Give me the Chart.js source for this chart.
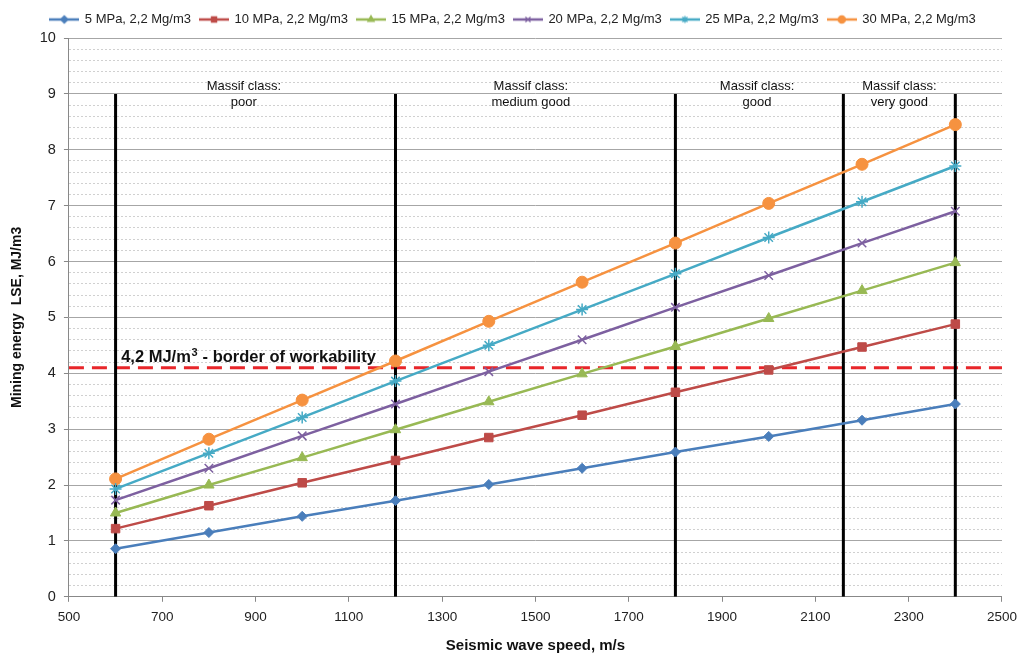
<!DOCTYPE html>
<html>
<head>
  <title>Mining energy vs seismic wave speed</title>
  <script src="https://cdn.jsdelivr.net/npm/chart.js"></script>
  <style>
    body { margin: 0; background: #fff; }
    #wrap { width: 1024px; height: 655px; }
  </style>
</head>
<body>
<div id="wrap"><canvas id="lseChart" width="1024" height="655"></canvas></div>

<script>
  // wave speeds, m/s
  const speeds = [600, 800, 1000, 1200, 1400, 1600, 1800, 2000, 2200, 2400];

  const seriesNames = [
    '5 MPa, 2,2 Mg/m3', '10 MPa, 2,2 Mg/m3', '15 MPa, 2,2 Mg/m3',
    '20 MPa, 2,2 Mg/m3', '25 MPa, 2,2 Mg/m3', '30 MPa, 2,2 Mg/m3'
  ];
  const lse5  = [0.86, 1.15, 1.44, 1.72, 2.01, 2.30, 2.59, 2.87, 3.16, 3.45];
  const lse10 = [1.22, 1.63, 2.04, 2.44, 2.85, 3.25, 3.66, 4.06, 4.47, 4.88];
  const lse15 = [1.50, 2.00, 2.49, 2.99, 3.49, 3.99, 4.48, 4.98, 5.48, 5.98];
  const lse20 = [1.73, 2.30, 2.88, 3.45, 4.03, 4.60, 5.18, 5.75, 6.33, 6.90];
  const lse25 = [1.93, 2.57, 3.21, 3.86, 4.50, 5.14, 5.78, 6.43, 7.07, 7.71];
  const lse30 = [2.11, 2.82, 3.52, 4.22, 4.93, 5.63, 6.33, 7.04, 7.74, 8.45];

  // class boundaries (m/s) and workability border (MJ/m3)
  const classBounds = [600, 1200, 1800, 2160, 2400];
  const boundTop = 9;
  const borderLevel = 4.1;

  const xTicks = [500, 700, 900, 1100, 1300, 1500, 1700, 1900, 2100, 2300, 2500];

  const colors = ['#4a7ebb', '#be4b48', '#98b954', '#7d60a0', '#46aac5', '#f69240'];
  const markers = ['rectRot', 'rect', 'triangle', 'crossRot', 'star', 'circle'];
  const sizes = [5, 6, 6, 6, 6, 6];

  const allSeries = [lse5, lse10, lse15, lse20, lse25, lse30];
  const FONT = '"Liberation Sans", Arial, sans-serif';

  // small line+marker picture for each legend entry
  function legendIcon(i) {
    const c = document.createElement('canvas');
    c.width = 30; c.height = 12;
    const g = c.getContext('2d');
    g.strokeStyle = colors[i];
    g.fillStyle = colors[i];
    g.lineWidth = 2.5;
    g.beginPath(); g.moveTo(0, 6); g.lineTo(30, 6); g.stroke();
    g.lineWidth = 1.3;
    Chart.helpers.drawPoint(g, { pointStyle: markers[i], radius: 3.6, rotation: 0, borderWidth: 1.3 }, 15, 6);
    return c;
  }

  const datasets = allSeries.map((vals, i) => ({
    label: seriesNames[i],
    data: vals.map((v, j) => ({ x: speeds[j], y: v })),
    borderColor: colors[i],
    backgroundColor: colors[i],
    borderWidth: 2.5,
    pointStyle: markers[i],
    pointRadius: sizes[i],
    pointBorderWidth: markers[i] === 'crossRot' || markers[i] === 'star' ? 1.5 : 1,
    tension: 0
  }));

  classBounds.forEach(b => {
    datasets.push({
      label: '_bound',
      data: [{ x: b, y: 0 }, { x: b, y: boundTop }],
      borderColor: '#000',
      borderWidth: 3,
      pointRadius: 0
    });
  });

  datasets.push({
    label: '_border',
    data: [{ x: 500, y: borderLevel }, { x: 2500, y: borderLevel }],
    borderColor: '#e8262a',
    borderWidth: 3,
    borderDash: [15, 8],
    pointRadius: 0
  });

  // text labels placed in data units
  const classLabels = [
    { x: 875, lines: ['Massif class:', 'poor'] },
    { x: 1490, lines: ['Massif class:', 'medium good'] },
    { x: 1975, lines: ['Massif class:', 'good'] },
    { x: 2280, lines: ['Massif class:', 'very good'] }
  ];

  const textPlugin = {
    id: 'texts',
    beforeInit(chart) {
      // a little more room under the legend
      const fit = chart.legend.fit;
      chart.legend.fit = function () { fit.call(this); this.height += 2; };
    },
    afterDatasetsDraw(chart) {
      const { ctx, scales: { x, y } } = chart;
      ctx.save();
      ctx.fillStyle = '#111';
      ctx.font = '13px ' + FONT;
      ctx.textAlign = 'center';
      ctx.textBaseline = 'middle';
      classLabels.forEach(l => {
        const px = x.getPixelForValue(l.x);
        ctx.fillText(l.lines[0], px, y.getPixelForValue(9.14));
        ctx.fillText(l.lines[1], px, y.getPixelForValue(8.85));
      });

      // workability label with superscript
      ctx.font = 'bold 16.5px ' + FONT;
      ctx.textAlign = 'left';
      ctx.textBaseline = 'alphabetic';
      let px = x.getPixelForValue(612);
      const base = y.getPixelForValue(4.2);
      const p1 = '4,2 MJ/m';
      ctx.fillText(p1, px, base);
      px += ctx.measureText(p1).width;
      ctx.font = 'bold 11px ' + FONT;
      ctx.fillText('3', px + 0.5, base - 6);
      px += ctx.measureText('3').width + 1;
      ctx.font = 'bold 16.5px ' + FONT;
      ctx.fillText(' - border of workability', px, base);
      ctx.restore();
    }
  };

  const isMajor = v => Math.abs(v - Math.round(v)) < 1e-6;

  new Chart(document.getElementById('lseChart'), {
    type: 'line',
    data: { datasets },
    plugins: [textPlugin],
    options: {
      responsive: false,
      animation: false,
      layout: { padding: { left: 5, right: 3, top: 4, bottom: 0 } },
      plugins: {
        legend: {
          position: 'top',
          labels: {
            filter: item => !item.text.startsWith('_'),
            usePointStyle: true,
            pointStyleWidth: 28,
            boxHeight: 12,
            padding: 9,
            color: '#222',
            font: { family: FONT, size: 13 },
            generateLabels: chart => {
              const items = Chart.defaults.plugins.legend.labels.generateLabels(chart);
              items.forEach(it => {
                if (it.datasetIndex < seriesNames.length) it.pointStyle = legendIcon(it.datasetIndex);
              });
              return items;
            }
          }
        },
        tooltip: { enabled: false }
      },
      scales: {
        x: {
          type: 'linear',
          min: 500,
          max: 2500,
          afterBuildTicks: axis => { axis.ticks = xTicks.map(v => ({ value: v })); },
          ticks: {
            color: '#222',
            font: { family: FONT, size: 13.5 },
            padding: 7,
            callback: v => String(v)
          },
          grid: { drawOnChartArea: false, drawTicks: true, tickLength: 5, tickColor: '#888' },
          border: { color: '#888', width: 1 },
          title: {
            display: true,
            text: 'Seismic wave speed, m/s',
            color: '#111',
            font: { family: FONT, size: 15, weight: 'bold' },
            padding: { top: 5, bottom: 0 }
          }
        },
        y: {
          min: 0,
          max: 10,
          ticks: {
            stepSize: 0.2,
            autoSkip: false,
            color: '#222',
            font: { family: FONT, size: 14.5 },
            callback: v => isMajor(v) ? Math.round(v) : '',
            padding: 8
          },
          grid: {
            color: ctx => isMajor(ctx.tick.value) ? '#a6a6a6' : '#d0d0d0',
            lineWidth: 1,
            tickLength: 5,
            tickColor: ctx => isMajor(ctx.tick.value) ? '#888' : 'rgba(0,0,0,0)'
          },
          border: {
            color: '#888',
            dash: ctx => isMajor(ctx.tick.value) ? [] : [2, 2]
          },
          title: {
            display: true,
            text: 'Mining energy  LSE, MJ/m3',
            color: '#111',
            font: { family: FONT, size: 14, weight: 'bold' },
            padding: { bottom: 6 }
          }
        }
      }
    }
  });
</script>
</body>
</html>
